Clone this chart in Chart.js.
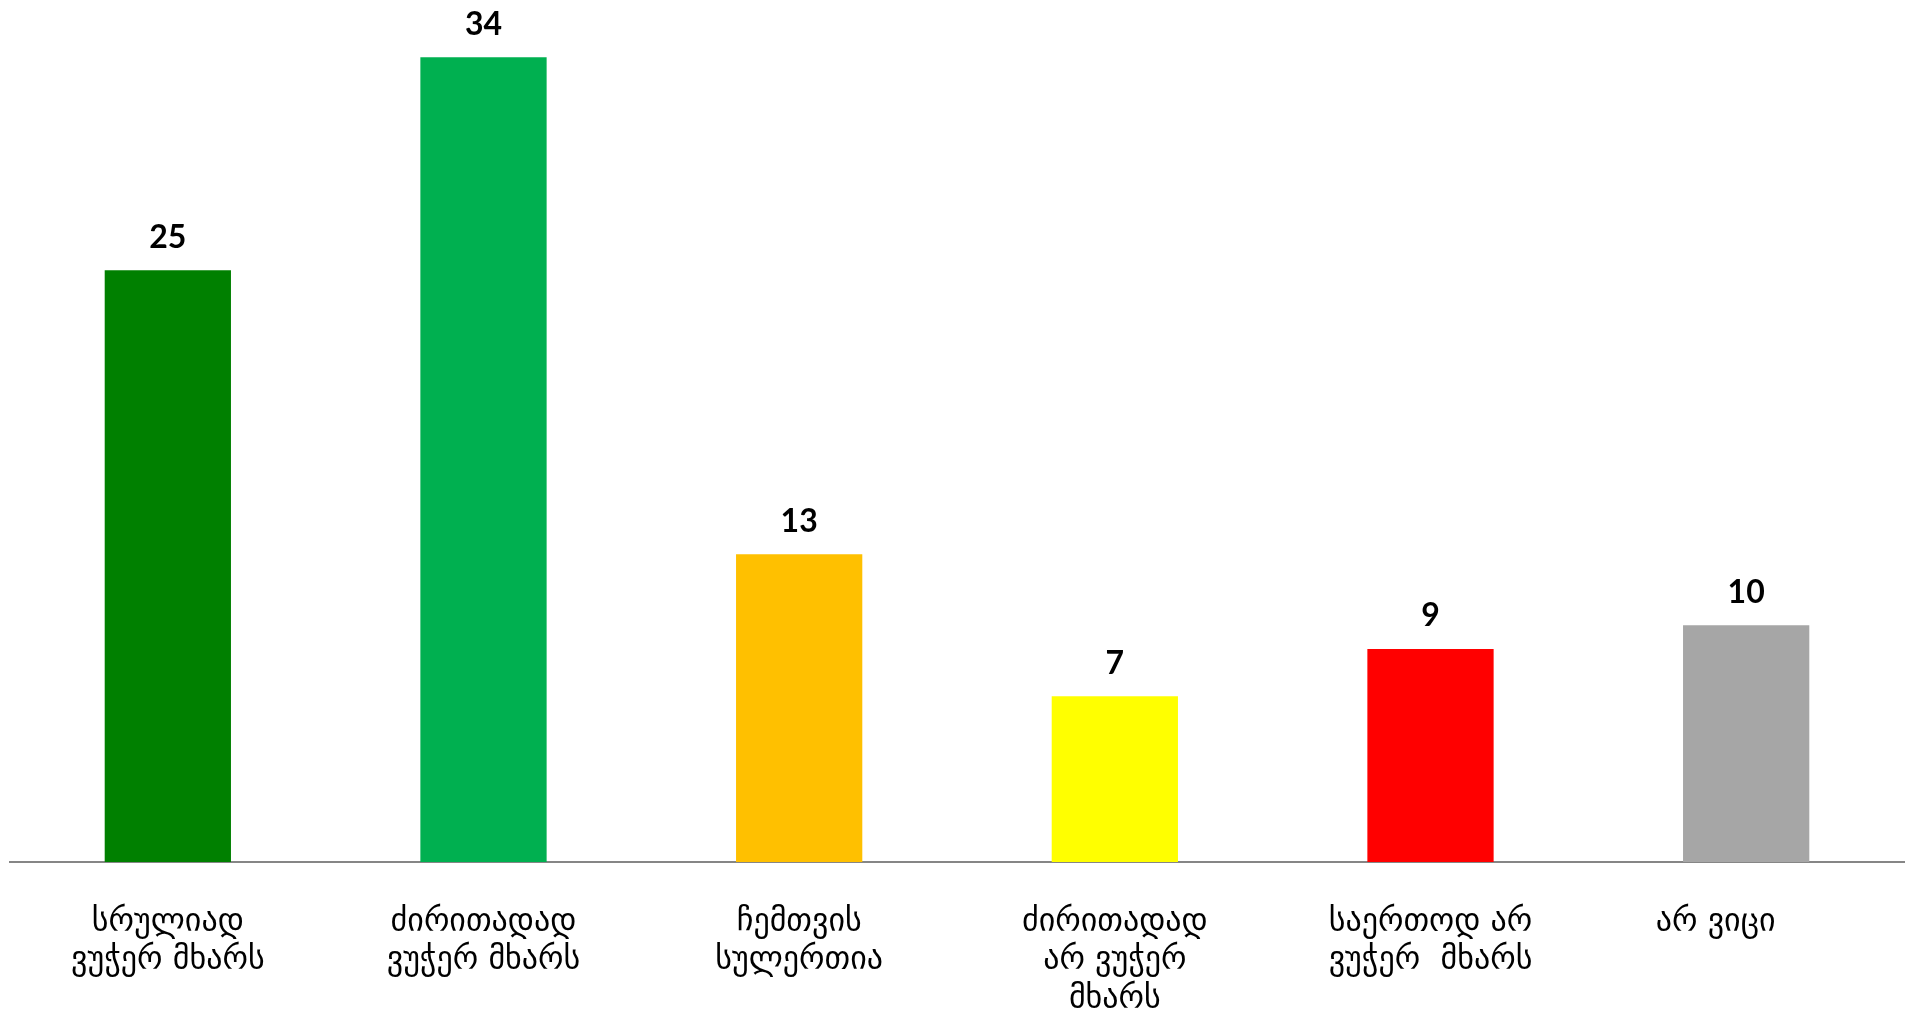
<!DOCTYPE html>
<html>
<head>
<meta charset="utf-8">
<script src="https://cdn.jsdelivr.net/npm/chart.js@4/dist/chart.umd.min.js"></script>
<style>
  html, body { margin: 0; padding: 0; background: #ffffff; }
  #wrap { width: 1910px; height: 1010px; position: relative; }
</style>
</head>
<body>
<div id="wrap"><canvas id="chart"></canvas></div>
<script>
// Survey answers (percent)
const categories = [
  ["სრულიად", "ვუჭერ მხარს"],
  ["ძირითადად", "ვუჭერ მხარს"],
  ["ჩემთვის", "სულერთია"],
  ["ძირითადად", "არ ვუჭერ", "მხარს"],
  ["საერთოდ არ", "ვუჭერ  მხარს"],
  ["არ ვიცი      "]
];
const values = [25, 34, 13, 7, 9, 10];
const barColors = ["#008000", "#00b050", "#ffc000", "#ffff00", "#ff0000", "#a6a6a6"];

// Writes each bar's value above it
const valueLabels = {
  id: 'valueLabels',
  afterDatasetsDraw(chart) {
    const ctx = chart.ctx;
    const meta = chart.getDatasetMeta(0);
    ctx.save();
    ctx.font = 'bold 32px Lato, "Liberation Sans", sans-serif';
    ctx.fillStyle = '#000000';
    ctx.textAlign = 'center';
    ctx.textBaseline = 'middle';
    meta.data.forEach((bar, i) => {
      ctx.fillText(String(values[i]), bar.x, bar.y - 33);
    });
    ctx.restore();
  }
};

new Chart(document.getElementById('chart'), {
  type: 'bar',
  data: {
    labels: categories,
    datasets: [{
      data: values,
      backgroundColor: barColors,
      borderWidth: 0,
      barPercentage: 0.4,
      categoryPercentage: 1.0
    }]
  },
  options: {
    responsive: true,
    maintainAspectRatio: false,
    animation: false,
    layout: { padding: { left: 10, right: 6, top: 10, bottom: 0 } },
    plugins: {
      legend: { display: false },
      tooltip: { enabled: false }
    },
    scales: {
      x: {
        grid: { display: false, drawTicks: false },
        border: { display: true, color: '#868686', width: 2 },
        ticks: {
          color: '#000000',
          padding: 42,
          maxRotation: 0,
          autoSkip: false,
          font: { family: '"DejaVu Sans", sans-serif', size: 32, lineHeight: 1.19 }
        },
        afterFit(scale) { scale.height = 148; }
      },
      y: {
        display: false,
        min: 0,
        max: 36
      }
    }
  },
  plugins: [valueLabels]
});
</script>
</body>
</html>
